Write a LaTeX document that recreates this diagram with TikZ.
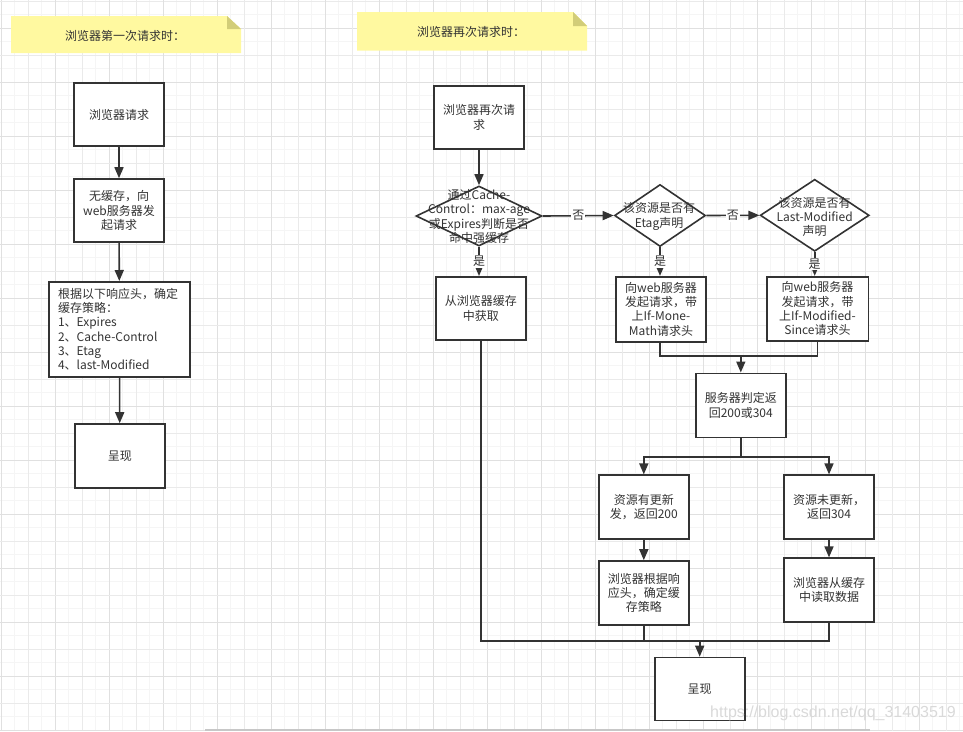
\documentclass[tikz,border=0pt]{standalone}
\usepackage{fontspec}
\setmainfont{Noto Sans CJK SC}
\newfontfamily\wmfont{Liberation Sans}
\usetikzlibrary{arrows.meta,shapes.geometric}
\definecolor{ink}{HTML}{333333}
\definecolor{notefill}{HTML}{FFF9A0}
\definecolor{notefold}{HTML}{D2CD78}
\definecolor{gdark}{HTML}{E0E0E0}
\definecolor{gmid}{HTML}{EAEAEA}
\definecolor{gfaint}{HTML}{F5F5F5}
\begin{document}
\begin{tikzpicture}[x=1pt,y=-1pt,
  txt/.style={font=\fontsize{12}{14.3}\selectfont, text=ink, align=center, inner sep=0pt},
  box/.style={txt, draw=ink, line width=1.6pt, fill=white, minimum width=90pt, minimum height=63pt},
  dia/.style={diamond, draw=ink, line width=1.6pt, fill=white, inner sep=0pt},
  conn/.style={draw=ink, line width=1.6pt},
  arr/.style={conn, -{Triangle[length=11pt,width=9pt]}},
  lab/.style={txt, fill=white, inner sep=1pt},
]
\useasboundingbox (0,0) rectangle (963,731);
% grid
\foreach \v in {14.8,41.8,...,963} {
  \draw[gfaint, line width=1pt] (\v,0) -- (\v,731);
  \draw[gfaint, line width=1pt] (0,\v) -- (963,\v);
}
\foreach \v in {28.3,82.3,...,963} {
  \draw[gmid, line width=1pt] (\v,0) -- (\v,731);
  \draw[gdark, line width=1pt] (0,\v) -- (963,\v);
}
\foreach \v in {1.3,55.3,...,963} {
  \draw[gdark, line width=1pt] (\v,0) -- (\v,731);
  \draw[gmid, line width=1pt] (0,\v) -- (963,\v);
}
\draw[black!22, line width=1.5pt] (205,730) -- (870,730);

% notes
\fill[notefill] (11,16) -- (227,16) -- (241,29) -- (241,53) -- (11,53) -- cycle;
\fill[notefold] (227,16) -- (241,29) -- (227,29) -- cycle;
\node[txt] (t1) at (125,35.5) {浏览器第一次请求时：};
\fill[notefill] (357,12) -- (573,12) -- (587,26) -- (587,50.7) -- (357,50.7) -- cycle;
\fill[notefold] (573,12) -- (587,26) -- (573,26) -- cycle;
\node[txt] (t2) at (471,32) {浏览器再次请求时：};

% left column
\node[box] (a1) at (119,114.5) {浏览器请求};
\node[box] (a2) at (119,210.5) {无缓存，向\\web服务器发\\起请求};
\node[box, minimum width=141pt, minimum height=95pt, align=left, text width=123pt] (a3) at (119.5,329.3)
  {根据以下响应头，确定\\缓存策略：\\1、Expires\\2、Cache-Control\\3、Etag\\4、last-Modified};
\node[box, minimum height=64pt] (a4) at (119.8,456) {呈现};
\draw[arr] (a1) -- (a2);
\draw[arr] (a2) -- (a3);
\draw[arr] (a3) -- (a4);

% right part
\node[box] (b1) at (479,117.3) {浏览器再次请\\求};
\node[dia, minimum width=126pt, minimum height=60pt] (d1) at (479,216) {};
\node[box] (c1) at (480.8,308.3) {从浏览器缓存\\中获取};
\node[dia, minimum width=91pt, minimum height=62pt] (d2) at (660,215.5) {};
\node[box, minimum height=65pt] (e1) at (661,309.2) {向web服务器\\发起请求，带\\上If-Mone-\\Math请求头};
\node[dia, minimum width=109pt, minimum height=72pt] (d3) at (814.7,215.3) {};
\node[box, minimum width=101.6pt, minimum height=64pt] (e2) at (817.5,308.7) {向web服务器\\发起请求，带\\上If-Modified-\\Since请求头};
\node[box, minimum height=64pt] (f1) at (740.8,405.3) {服务器判定返\\回200或304};
\node[box, minimum height=64pt] (g1) at (643.8,507.2) {资源有更新\\发，返回200};
\node[box, minimum height=64pt] (g2) at (829,507.2) {资源未更新，\\返回304};
\node[box, minimum height=64pt] (h1) at (643.8,593) {浏览器根据响\\应头，确定缓\\存策略};
\node[box, minimum height=64pt] (h2) at (829,590.2) {浏览器从缓存\\中读取数据};
\node[box] (z) at (699.7,689) {呈现};

\coordinate (m1) at (740.8,356);
\coordinate (m2) at (740.8,456.7);
\coordinate (m3) at (699.7,641);

\draw[arr] (b1) -- (d1);
\draw[arr] (d1.east) -- node[lab] (l1) {否} (d2.west);
\draw[arr] (d2.east) -- node[lab] (l2) {否} (d3.west);
\draw[arr] (d1.south) -- node[lab] (l3) {是} (d1.south |- c1.north);
\draw[arr] (d2.south) -- node[lab] (l4) {是} (d2.south |- e1.north);
\draw[arr] (d3.south) -- node[lab] (l5) {是} (d3.south |- e2.north);

\node[txt] (d1t) at (479,216.5) {通过Cache-\\Control：max-age\\或Expires判断是否\\命中强缓存};
\node[txt] (d2t) at (659,216.5) {该资源是否有\\Etag声明};
\node[txt] (d3t) at (814.7,217) {该资源是否有\\Last-Modified\\声明};

\draw[conn] (e1.south -| d2.south) |- (m1);
\draw[conn] (e2.south) |- (m1);
\draw[arr] (m1) -- (f1.north);
\draw[conn] (f1.south) -- (m2);
\draw[arr] (m2) -| (g1.north);
\draw[arr] (m2) -| (g2.north);
\draw[arr] (g1) -- (h1);
\draw[arr] (g2) -- (h2);
\draw[conn] (c1.south) |- (m3);
\draw[conn] (h1.south) |- (m3);
\draw[conn] (h2.south) |- (m3);
\draw[arr] (m3) -- (z.north);

\node[font=\wmfont\fontsize{16}{16}\selectfont, text=black!15, anchor=west, inner sep=0pt] (wm) at (710,713) {https://blog.csdn.net/qq\_31403519};
\end{tikzpicture}
\end{document}
